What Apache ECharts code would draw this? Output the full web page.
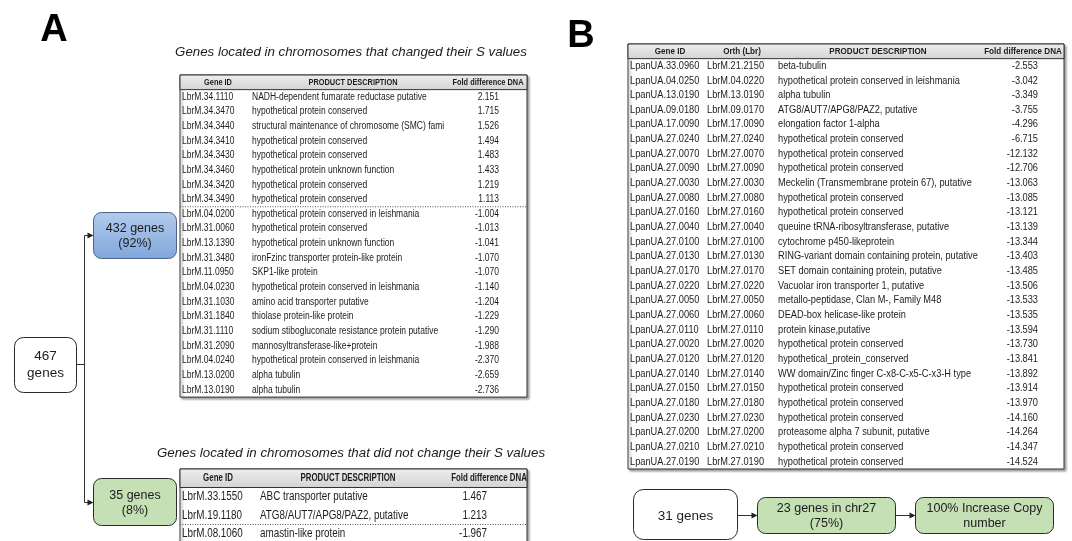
<!DOCTYPE html>
<html><head><meta charset="utf-8">
<script src="https://cdn.jsdelivr.net/npm/echarts@6/dist/echarts.min.js"></script>
<style>html,body{margin:0;padding:0;background:#fff}#c{width:1072px;height:541px}</style>
</head><body><div id="c"></div>
<script>
// ---------------- DATA ----------------
const panelLetters = ['A', 'B'];
const titlesA = ['Genes located in chromosomes that changed their S values',
                 'Genes located in chromosomes that did not change their S values'];
const headersA = ['Gene ID', 'PRODUCT DESCRIPTION', 'Fold difference DNA'];
const changedGeneIds = ['LbrM.34.1110','LbrM.34.3470','LbrM.34.3440','LbrM.34.3410','LbrM.34.3430','LbrM.34.3460','LbrM.34.3420','LbrM.34.3490','LbrM.04.0200','LbrM.31.0060','LbrM.13.1390','LbrM.31.3480','LbrM.11.0950','LbrM.04.0230','LbrM.31.1030','LbrM.31.1840','LbrM.31.1110','LbrM.31.2090','LbrM.04.0240','LbrM.13.0200','LbrM.13.0190'];
const changedDescriptions = ['NADH-dependent fumarate reductase putative','hypothetical protein conserved','structural maintenance of chromosome (SMC) fami','hypothetical protein conserved','hypothetical protein conserved','hypothetical protein unknown function','hypothetical protein conserved','hypothetical protein conserved','hypothetical protein conserved in leishmania','hypothetical protein conserved','hypothetical protein unknown function','ironFzinc transporter protein-like protein','SKP1-like protein','hypothetical protein conserved in leishmania','amino acid transporter putative','thiolase protein-like protein','sodium stibogluconate resistance protein putative','mannosyltransferase-like+protein','hypothetical protein conserved in leishmania','alpha tubulin','alpha tubulin'];
const changedFold = [2.151,1.715,1.526,1.494,1.483,1.433,1.219,1.113,-1.004,-1.013,-1.041,-1.070,-1.070,-1.140,-1.204,-1.229,-1.290,-1.988,-2.370,-2.659,-2.736];

const unchangedGeneIds = ['LbrM.33.1550','LbrM.19.1180','LbrM.08.1060'];
const unchangedDescriptions = ['ABC transporter putative','ATG8/AUT7/APG8/PAZ2, putative','amastin-like protein'];
const unchangedFold = [1.467,1.213,-1.967];

const headersB = ['Gene ID', 'Orth (Lbr)', 'PRODUCT DESCRIPTION', 'Fold difference DNA'];
const panGeneIds = ['LpanUA.33.0960','LpanUA.04.0250','LpanUA.13.0190','LpanUA.09.0180','LpanUA.17.0090','LpanUA.27.0240','LpanUA.27.0070','LpanUA.27.0090','LpanUA.27.0030','LpanUA.27.0080','LpanUA.27.0160','LpanUA.27.0040','LpanUA.27.0100','LpanUA.27.0130','LpanUA.27.0170','LpanUA.27.0220','LpanUA.27.0050','LpanUA.27.0060','LpanUA.27.0110','LpanUA.27.0020','LpanUA.27.0120','LpanUA.27.0140','LpanUA.27.0150','LpanUA.27.0180','LpanUA.27.0230','LpanUA.27.0200','LpanUA.27.0210','LpanUA.27.0190'];
const panOrthologs = ['LbrM.21.2150','LbrM.04.0220','LbrM.13.0190','LbrM.09.0170','LbrM.17.0090','LbrM.27.0240','LbrM.27.0070','LbrM.27.0090','LbrM.27.0030','LbrM.27.0080','LbrM.27.0160','LbrM.27.0040','LbrM.27.0100','LbrM.27.0130','LbrM.27.0170','LbrM.27.0220','LbrM.27.0050','LbrM.27.0060','LbrM.27.0110','LbrM.27.0020','LbrM.27.0120','LbrM.27.0140','LbrM.27.0150','LbrM.27.0180','LbrM.27.0230','LbrM.27.0200','LbrM.27.0210','LbrM.27.0190'];
const panDescriptions = ['beta-tubulin','hypothetical protein conserved in leishmania','alpha tubulin','ATG8/AUT7/APG8/PAZ2, putative','elongation factor 1-alpha','hypothetical protein conserved','hypothetical protein conserved','hypothetical protein conserved','Meckelin (Transmembrane protein 67), putative','hypothetical protein conserved','hypothetical protein conserved','queuine tRNA-ribosyltransferase, putative','cytochrome p450-likeprotein','RING-variant domain containing protein, putative','SET domain containing protein, putative','Vacuolar iron transporter 1, putative','metallo-peptidase, Clan M-, Family M48','DEAD-box helicase-like protein','protein kinase,putative','hypothetical protein conserved','hypothetical_protein_conserved','WW domain/Zinc finger C-x8-C-x5-C-x3-H type','hypothetical protein conserved','hypothetical protein conserved','hypothetical protein conserved','proteasome alpha 7 subunit, putative','hypothetical protein conserved','hypothetical protein conserved'];
const panFold = [-2.553,-3.042,-3.349,-3.755,-4.296,-6.715,-12.132,-12.706,-13.063,-13.085,-13.121,-13.139,-13.344,-13.403,-13.485,-13.506,-13.533,-13.535,-13.594,-13.730,-13.841,-13.892,-13.914,-13.970,-14.160,-14.264,-14.347,-14.524];

const flowA = ['467\ngenes', '432 genes\n(92%)', '35 genes\n(8%)'];
const flowB = ['31 genes', '23 genes in chr27\n(75%)', '100% Increase Copy\nnumber'];

// ---------------- LAYOUT ----------------
const FONT = '"Liberation Sans", Arial, Helvetica, sans-serif';
const INK = '#1c1c1c';

const tables = [
  { left:180, top:75, width:347, rowH:14.64, extent:22,
    header: headersA, headerX:[38,173,308], headerFont:{size:9, sx:0.82},
    cols:[{x:2,align:'left'},{x:72,align:'left'},{x:319,align:'right'}],
    bodyFont:{size:10, sx:0.85},
    cells: changedGeneIds.map((g,i)=>[g, changedDescriptions[i], changedFold[i].toFixed(3)]),
    sepAfter: 8 },
  { left:180, top:469, width:347, rowH:18.5, extent:5,
    header: headersA, headerX:[38,168,309], headerFont:{size:10.5, sx:0.75},
    cols:[{x:2,align:'left'},{x:80,align:'left'},{x:307,align:'right'}],
    bodyFont:{size:12, sx:0.82},
    cells: unchangedGeneIds.map((g,i)=>[g, unchangedDescriptions[i], unchangedFold[i].toFixed(3)]),
    sepAfter: 2 },
  { left:628, top:44, width:436, rowH:14.655, extent:29,
    header: headersB, headerX:[42,114,250,395], headerFont:{size:9.5, sx:0.85},
    cols:[{x:2,align:'left'},{x:79,align:'left'},{x:150,align:'left'},{x:410,align:'right'}],
    bodyFont:{size:10.5, sx:0.88},
    cells: panGeneIds.map((g,i)=>[g, panOrthologs[i], panDescriptions[i], panFold[i].toFixed(3)]),
    sepAfter: -1 }
];

function textEl(x, y, s, align, f, bold) {
  return { type:'text', x:x, y:y, scaleX:f.sx,
    style:{ text:s, fill:INK, fontSize:f.size, fontFamily:FONT, fontWeight: bold?'bold':'normal',
            align:align, textAlign:align, verticalAlign:'middle', textVerticalAlign:'middle' } };
}

const headerFill = { type:'linear', x:0, y:0, x2:0, y2:1,
  colorStops:[{offset:0,color:'#eeeeee'},{offset:1,color:'#d3d3d3'}] };

const grids = [], xAxes = [], yAxes = [], series = [];
tables.forEach((t, gi) => {
  grids.push({ left:t.left, top:t.top, width:t.width, height:t.rowH*t.extent, show:true,
    outerBoundsMode:'none', containLabel:false,
    backgroundColor:'#fff', borderColor:'#333', borderWidth:1,
    shadowColor:'rgba(0,0,0,0.35)', shadowBlur:2, shadowOffsetX:2, shadowOffsetY:2 });
  xAxes.push({ type:'value', gridIndex:gi, min:0, max:t.width, show:false });
  yAxes.push({ type:'value', gridIndex:gi, min:0, max:t.extent, inverse:true, show:false });
  const data = [];
  for (let i = 0; i <= t.cells.length; i++) data.push([0, i]);
  series.push({
    type:'custom', coordinateSystem:'cartesian2d', xAxisIndex:gi, yAxisIndex:gi,
    clip:false, silent:true, animation:false, data:data,
    renderItem: function (params, api) {
      const r = api.value(1);
      const p0 = api.coord([0, r]);
      const p1 = api.coord([t.width, r + 1]);
      const yc = (p0[1] + p1[1]) / 2;
      const ch = [];
      if (r === 0) {
        ch.push({ type:'rect', shape:{x:p0[0], y:p0[1], width:p1[0]-p0[0], height:p1[1]-p0[1]},
          style:{ fill:headerFill, stroke:'#333', lineWidth:1 } });
        t.header.forEach((h, k) => ch.push(textEl(api.coord([t.headerX[k], r + 0.5])[0], yc, h, 'center', t.headerFont, true)));
      } else {
        const row = t.cells[r - 1];
        row.forEach((c, k) => ch.push(textEl(api.coord([t.cols[k].x, r + 0.5])[0], yc, c, t.cols[k].align, t.bodyFont, false)));
        if (t.sepAfter === r) {
          ch.push({ type:'line', shape:{x1:p0[0], y1:p1[1], x2:p1[0], y2:p1[1]},
            style:{ stroke:'#555', lineWidth:1, lineDash:[1,1.5] } });
        }
      }
      return { type:'group', children:ch };
    }
  });
});

// ---------------- FLOWCHART / TITLES ----------------
const STROKE = '#2a2a2a';
function tx(x, y, s, size, opts) {
  opts = opts || {};
  return { type:'text', x:x, y:y, z:100,
    style:{ text:s, fill: opts.fill || INK, fontSize:size, fontFamily:FONT,
      fontWeight: opts.weight || 'normal', fontStyle: opts.style || 'normal',
      lineHeight: opts.lh || size * 1.2,
      align: opts.align || 'center', textAlign: opts.align || 'center',
      verticalAlign:'middle', textVerticalAlign:'middle' } };
}
function box(x, y, w, h, r, fill, stroke) {
  return { type:'rect', z:90, shape:{x:x, y:y, width:w, height:h, r:r},
    style:{ fill:fill, stroke:stroke || STROKE, lineWidth:1 } };
}
function seg(pts) {
  return { type:'polyline', z:90, shape:{points:pts}, style:{ stroke:'#333', lineWidth:1, fill:null } };
}
function head(x, y) {
  return { type:'polygon', z:91, shape:{points:[[x,y],[x-6,y-3],[x-6,y+3]]}, style:{ fill:'#222' } };
}
const blueFill = { type:'linear', x:0, y:0, x2:0, y2:1,
  colorStops:[{offset:0,color:'#b3cbec'},{offset:1,color:'#7fa6da'}] };
const greenFill = '#c5e0b4';

const graphics = [
  tx(54, 31, panelLetters[0], 38, {weight:'bold', fill:'#000'}),
  tx(581, 37, panelLetters[1], 38, {weight:'bold', fill:'#000'}),
  tx(351, 52, titlesA[0], 13.3, {style:'italic'}),
  tx(351, 453, titlesA[1], 13.3, {style:'italic'}),
  // panel A flow
  seg([[76.5,364.5],[84.5,364.5]]),
  seg([[84.5,235.5],[84.5,502.5]]),
  seg([[84.5,235.5],[88,235.5]]), head(93.5,235.5),
  seg([[84.5,502.5],[88,502.5]]), head(93.5,502.5),
  box(14.5,337.5,62,55,9,'#fff'),
  tx(45.5,365,flowA[0],13.5,{lh:17}),
  box(93.5,212.5,83,46,8,blueFill,'#4a6487'),
  tx(135,236,flowA[1],12.5,{lh:15}),
  box(93.5,478.5,83,47,8,greenFill),
  tx(135,503,flowA[2],12.5,{lh:15}),
  // panel B flow
  seg([[737.5,515.5],[752,515.5]]), head(757.5,515.5),
  seg([[895.5,515.5],[910,515.5]]), head(915.5,515.5),
  box(633.5,489.5,104,50,10,'#fff'),
  tx(685.5,516,flowB[0],13.5),
  box(757.5,497.5,138,36,8,greenFill),
  tx(826.5,516,flowB[1],12.5,{lh:15}),
  box(915.5,497.5,138,36,8,greenFill),
  tx(984.5,516,flowB[2],12.5,{lh:15})
];

const chart = echarts.init(document.getElementById('c'));
chart.setOption({
  animation:false,
  backgroundColor:'#fff',
  grid:grids, xAxis:xAxes, yAxis:yAxes, series:series,
  graphic:{ elements: graphics }
});
</script>
</body></html>
